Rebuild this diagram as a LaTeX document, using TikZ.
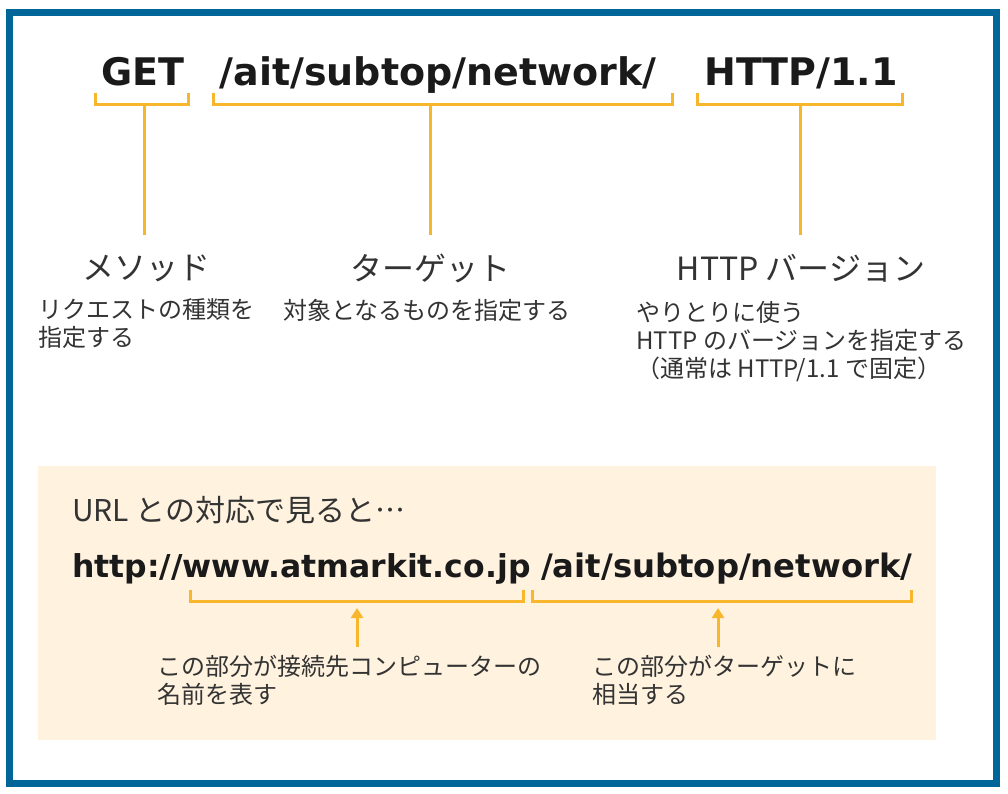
\documentclass[tikz,border=0pt]{standalone}
\usepackage{fontspec}
\setmainfont{DejaVu Sans}
\newfontfamily\jp[Script=CJK]{Noto Sans CJK JP}
\usetikzlibrary{arrows.meta}
\definecolor{framec}{HTML}{00669A}
\definecolor{brk}{HTML}{F8B62D}
\definecolor{beige}{HTML}{FFF3E0}
\definecolor{txt}{HTML}{1A1A1A}
\definecolor{txtj}{HTML}{333333}
\tikzset{
  bigcode/.style={font=\bfseries\fontsize{38}{40}\selectfont, text=txt, inner sep=0, anchor=base},
  urlcode/.style={font=\bfseries\fontsize{31.5}{34}\selectfont, text=txt, inner sep=0, anchor=base west},
  label/.style={font=\jp\fontsize{32}{36}\selectfont, text=txtj, inner sep=0},
  desc/.style={font=\jp\fontsize{24}{28}\selectfont, text=txtj, inner sep=0, align=left, anchor=west},
  bracket/.style={draw=brk, line width=3, line join=miter},
  stem/.style={draw=brk, line width=3},
  uparrow/.style={draw=brk, line width=3, -{Triangle[length=10,width=12]}},
}
\begin{document}
\begin{tikzpicture}[x=1pt,y=-1pt]
\useasboundingbox (0,0) rectangle (1008,794);
\fill[white] (0,0) rectangle (1008,794);
% frame
\draw[framec, line width=7] (9,13) rectangle (996,783);
% beige box
\fill[beige] (38,466) rectangle (936,740);

% top request line
\node[bigcode] (get) at (143,86) {GET};
\node[bigcode] (path) at (438,86) {/ait/subtop/network/};
\node[bigcode] (ver) at (801,86) {HTTP/1.1};

% brackets
\coordinate (b1) at (144,104.5);
\coordinate (b2) at (430,104.5);
\coordinate (b3) at (800,104.5);
\draw[bracket] (95,93) -- (95,104.5) -- (188,104.5) -- (188,93);
\draw[bracket] (213,93) -- (213,104.5) -- (672,104.5) -- (672,93);
\draw[bracket] (697,93) -- (697,104.5) -- (902,104.5) -- (902,93);

% labels
\node[label] (l1) at (146,268) {メソッド};
\node[label] (l2) at (430,268) {ターゲット};
\node[label] (l3) at (801,268) {HTTP バージョン};
\coordinate (s1) at (144,235);
\coordinate (s2) at (430,235);
\coordinate (s3) at (800,235);
\draw[stem] (b1) -- (s1);
\draw[stem] (b2) -- (s2);
\draw[stem] (b3) -- (s3);

% descriptions
\node[desc] (d1) at (38,324) {リクエストの種類を\\指定する};
\node[desc] (d2) at (283,310) {対象となるものを指定する};
\node[desc] (d3) at (636,342) {やりとりに使う\\HTTP のバージョンを指定する\\（通常は HTTP/1.1 で固定）};

% lower box
\node[font=\jp\fontsize{30}{34}\selectfont, text=txtj, inner sep=0, anchor=base west] (urlh) at (72,521) {URL との対応で見ると{\addfontfeatures{RawFeature=+fwid}…}};
\node[urlcode] (host) at (72,577) {http://www.atmarkit.co.jp};
\node[urlcode, font=\bfseries\fontsize{32.3}{34}\selectfont] (upath) at (541,577) {/ait/subtop/network/};

\coordinate (c1) at (357,603);
\coordinate (c2) at (718,603);
\draw[bracket] (190,590) -- (190,601.5) -- (523,601.5) -- (523,590);
\draw[bracket] (532,590) -- (532,601.5) -- (911,601.5) -- (911,590);
\coordinate (a1) at (357,647);
\coordinate (a2) at (718,647);
\draw[uparrow] (a1) -- (357,608);
\draw[uparrow] (a2) -- (718,608);

\node[desc] (e1) at (157,680) {この部分が接続先コンピューターの\\名前を表す};
\node[desc] (e2) at (592,680) {この部分がターゲットに\\相当する};
\end{tikzpicture}
\end{document}
